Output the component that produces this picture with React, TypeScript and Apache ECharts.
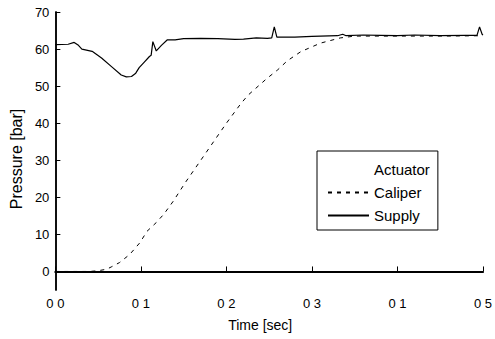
import React, { useEffect, useRef } from "react";
import * as echarts from "echarts";

const xTickLabels = ["0 0", "0 1", "0 2", "0 3", "0 1", "0 5"];
const yTickValues = [0, 10, 20, 30, 40, 50, 60, 70];

const supplyT = [0, 0.015, 0.022, 0.027, 0.031, 0.043, 0.054, 0.066, 0.077, 0.083, 0.089, 0.094, 0.098, 0.104, 0.11, 0.112, 0.114, 0.118, 0.124, 0.131, 0.14, 0.15, 0.17, 0.19, 0.21, 0.22, 0.235, 0.248, 0.253, 0.256, 0.259, 0.28, 0.3, 0.33, 0.336, 0.34, 0.36, 0.38, 0.4, 0.42, 0.45, 0.48, 0.493, 0.496, 0.499, 0.5];
const supplyP = [61.2, 61.3, 61.8, 61.0, 60.0, 59.4, 57.6, 55.2, 53.0, 52.5, 52.6, 53.5, 55.0, 56.5, 58.0, 58.3, 62.0, 59.5, 61.0, 62.5, 62.5, 62.8, 62.9, 62.8, 62.6, 62.7, 63.0, 62.9, 63.0, 66.0, 63.2, 63.2, 63.4, 63.6, 64.0, 63.6, 63.8, 63.7, 63.6, 63.8, 63.6, 63.7, 63.7, 66.0, 64.0, 63.8];

const caliperT = [0, 0.02, 0.04, 0.05, 0.06, 0.066, 0.075, 0.087, 0.099, 0.107, 0.118, 0.127, 0.138, 0.152, 0.17, 0.185, 0.2, 0.216, 0.225, 0.247, 0.26, 0.271, 0.287, 0.31, 0.333, 0.35, 0.4, 0.45, 0.5];
const caliperP = [0, 0, 0, 0.2, 0.6, 1.3, 2.4, 4.6, 7.8, 10.8, 13.2, 15.5, 19.0, 24.0, 30.0, 35.0, 40.0, 45.0, 47.5, 52.0, 54.4, 56.8, 59.3, 61.6, 63.0, 63.5, 63.5, 63.5, 63.6];

const seriesNames = ["Actuator", "Caliper", "Supply"];

const zip = (a: number[], b: number[]) => a.map((t, i) => [t, b[i]]);

const FONT = "Liberation Sans";

export default function App() {
  const ref = useRef<HTMLDivElement>(null);
  useEffect(() => {
    if (!ref.current) return;
    const chart = echarts.init(ref.current, null, { renderer: "svg" });
    chart.setOption({
      animation: false,
      backgroundColor: "#fff",
      grid: { left: 53, right: 9, top: 12, bottom: 49 },
      legend: {
        orient: "vertical",
        left: 317,
        top: 151,
        data: seriesNames,
        itemWidth: 41,
        itemHeight: 14,
        itemGap: 8,
        padding: [11, 8, 7, 10],
        borderColor: "#000",
        borderWidth: 1,
        backgroundColor: "#fff",
        itemStyle: { opacity: 0 },
        textStyle: { fontFamily: FONT, fontSize: 15, color: "#000" },
      },
      xAxis: [
        {
          type: "value",
          min: 0,
          max: 0.5,
          interval: 0.1,
          name: "Time [sec]",
          nameLocation: "middle",
          nameGap: 28,
          nameTextStyle: { fontFamily: FONT, fontSize: 14, color: "#000", padding: [0, 18, 0, 0] },
          axisLine: { lineStyle: { color: "#000", width: 1.5 } },
          axisTick: { inside: true, length: 5, lineStyle: { color: "#000" } },
          axisLabel: {
            fontFamily: FONT,
            fontSize: 13,
            color: "#000",
            margin: 7,
            formatter: (v: number) => xTickLabels[Math.round(v / 0.1)] ?? "",
          },
          splitLine: { show: false },
        },
        {
          type: "value",
          position: "top",
          min: 0,
          max: 0.5,
          axisLine: { lineStyle: { color: "#000", width: 2 } },
          axisTick: { show: false },
          axisLabel: { show: false },
          splitLine: { show: false },
        },
      ],
      yAxis: [
        {
          type: "value",
          min: -5,
          max: 70,
          name: "Pressure [bar]",
          nameLocation: "middle",
          nameGap: 30,
          nameTextStyle: { fontFamily: FONT, fontSize: 16, color: "#000", padding: [0, 16, 0, 0] },
          axisLine: { show: true, lineStyle: { color: "#000", width: 1.5 } },
          axisTick: { show: true, inside: true, length: 5, customValues: yTickValues, lineStyle: { color: "#000" } },
          axisLabel: { fontFamily: FONT, fontSize: 13, color: "#000", margin: 6, customValues: yTickValues },
          splitLine: { show: false },
        },
        {
          type: "value",
          position: "right",
          min: -5,
          max: 70,
          axisLine: { show: true, lineStyle: { color: "#000", width: 1.5 } },
          axisTick: { show: false },
          axisLabel: { show: false },
          splitLine: { show: false },
        },
      ],
      series: [
        {
          name: seriesNames[0],
          type: "line",
          data: [],
          symbol: "none",
          lineStyle: { color: "#000", width: 1, opacity: 0 },
          itemStyle: { color: "#000", opacity: 0 },
        },
        {
          name: seriesNames[1],
          type: "line",
          data: zip(caliperT, caliperP),
          symbol: "none",
          lineStyle: { color: "#000", width: 1, type: [4, 5] },
          itemStyle: { color: "#000", opacity: 0 },
        },
        {
          name: seriesNames[2],
          type: "line",
          data: zip(supplyT, supplyP),
          symbol: "none",
          lineStyle: { color: "#000", width: 1.2 },
          itemStyle: { color: "#000", opacity: 0 },
        },
      ],
    });
    return () => chart.dispose();
  }, []);
  return <div ref={ref} style={{ width: 495, height: 339, position: "absolute", left: 0, top: 0 }} />;
}
